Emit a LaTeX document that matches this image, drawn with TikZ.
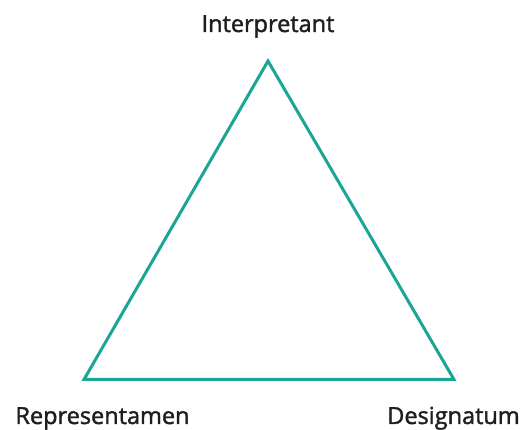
\documentclass[tikz,border=0pt]{standalone}
\usepackage{fontspec}
\setmainfont{Open Sans}
\newfontfamily\lblfont[FakeBold=1.6]{Open Sans}
\definecolor{teal1}{HTML}{1AA596}
\definecolor{txt}{HTML}{1E1E1E}
\tikzset{lbl/.style={text=txt,font=\lblfont\fontsize{23.5}{27}\selectfont,inner sep=0pt,anchor=base},
  tri/.style={draw=teal1,line width=3pt,line join=miter}}
\begin{document}
\begin{tikzpicture}[x=1pt,y=-1pt]
\useasboundingbox (0,0) rectangle (525,430);
\coordinate (I) at (268,61);
\coordinate (R) at (84,379.5);
\coordinate (D) at (454,379.5);
\draw[tri] (I) -- (R) -- (D) -- cycle;
\node[lbl] (ti) at (268,32) {Interpretant};
\node[lbl] (tr) at (102.5,424) {Representamen};
\node[lbl] (td) at (453.5,424) {Designatum};
\end{tikzpicture}
\end{document}
